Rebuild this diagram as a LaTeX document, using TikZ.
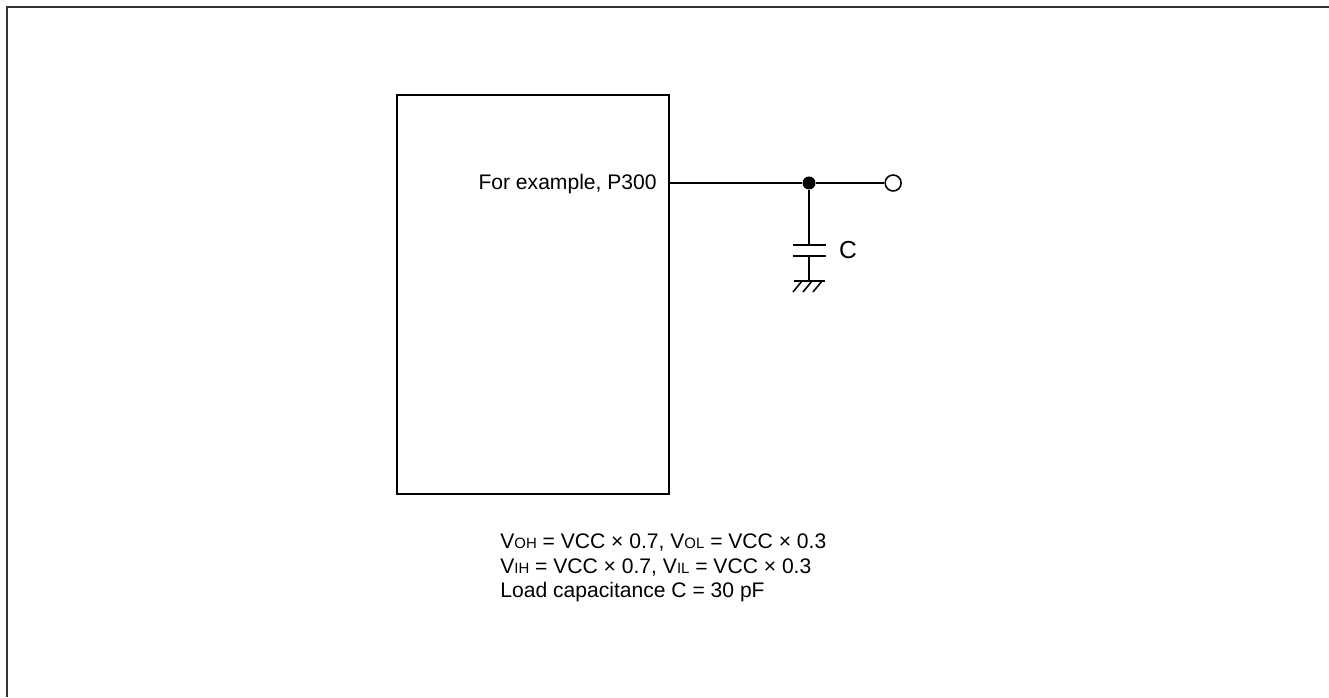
\documentclass[tikz,border=0pt]{standalone}
\usepackage{fontspec}
\setmainfont{Liberation Sans}
\usetikzlibrary{positioning}
\newcommand{\vsub}[1]{\raisebox{-0.5pt}{\fontsize{8.5}{8.5}\selectfont #1}}

\begin{document}
\begin{tikzpicture}[x=0.02cm,y=0.02cm,font=\fontsize{12}{14.2}\selectfont,
    wire/.style = {line width=0.9pt},
    chip/.style = {draw, line width=0.9pt, minimum width=5.44cm, minimum height=7.98cm, inner sep=0},
    jdot/.style = {circle, fill, inner sep=0, minimum size=0.26cm},
    term/.style = {circle, draw, fill=white, line width=0.9pt, inner sep=0, minimum size=0.32cm},
    plate/.style = {line width=1.1pt}]
                \useasboundingbox (0,0) rectangle (1329,697);
                % frame
                \draw[line width=1.1pt, black!80] (7,0) -- (7,690) -- (1329,690);
                % device
                \node[chip] (chip) at (533,402.5) {};
                \node[anchor=base east, inner sep=0] (pin) at (657,507) {For example, P300};
                \node[jdot] (jn) at (809,514) {};
                \node[term] (out) [right=1.37cm of jn] {};
                \draw[wire] (chip.east |- jn) -- (jn) -- (out);
                % load capacitor
                \coordinate (ca) at (809,452);
                \coordinate (cb) at (809,441);
                \coordinate (gnd) at (809,416);
                \draw[wire] (jn) -- (ca);
                \draw[plate] (ca) ++(-16.5,0) -- ++(33,0);
                \draw[plate] (cb) ++(-16.5,0) -- ++(33,0);
                \draw[wire] (cb) -- (gnd);
                \draw[wire] (gnd) ++(-15,0) -- ++(31,0);
                \foreach \dx in {-7,3,13}
                    \draw[wire] (gnd) ++(\dx,0) -- ++(-9,-11);
                \node[font=\fontsize{14}{16}\selectfont] (clabel) at (848,447) {C};
                % conditions
                \node[anchor=north west, align=left, inner sep=0] (notes) at (500,164)
                    {V\vsub{OH} = VCC × 0.7, V\vsub{OL} = VCC × 0.3\\
                     V\vsub{IH} = VCC × 0.7, V\vsub{IL} = VCC × 0.3\\
                     Load capacitance C = 30 pF};
\end{tikzpicture}
\end{document}
